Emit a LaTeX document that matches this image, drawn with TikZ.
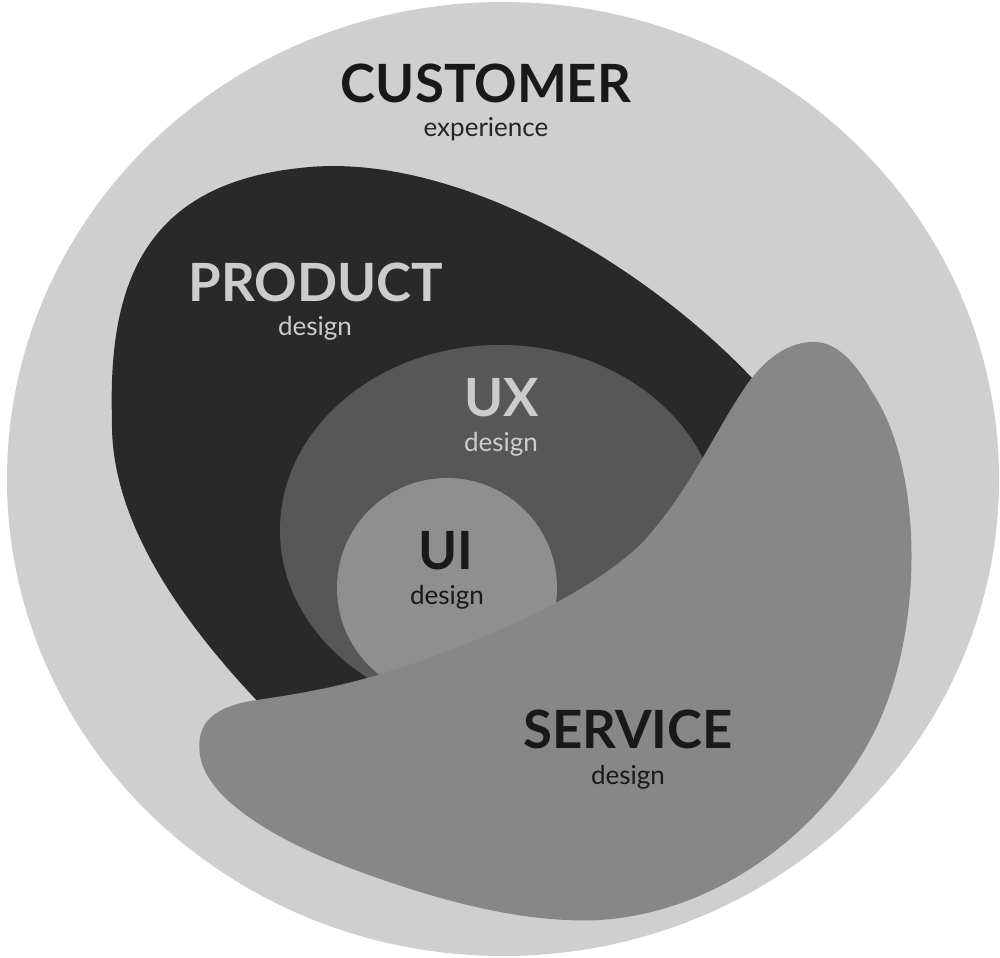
\documentclass[tikz,border=0pt]{standalone}
\usepackage{fontspec}
\setmainfont{Lato}

\definecolor{custgray}{gray}{0.81}
\definecolor{prodgray}{gray}{0.16}
\definecolor{uxgray}{gray}{0.34}
\definecolor{uigray}{gray}{0.56}
\definecolor{servgray}{gray}{0.53}
\definecolor{lighttext}{gray}{0.80}

\begin{document}
\begin{tikzpicture}[x=0.01cm,y=-0.01cm,
        title/.style={font=\bfseries\fontsize{15}{17}\selectfont, inner sep=0pt, anchor=base},
        sub/.style={font=\fontsize{7.4}{9}\selectfont, inner sep=0pt, anchor=base}]
    \useasboundingbox (0,0) rectangle (1000,958);

    % customer experience
    \fill[custgray] (503,479) ellipse [x radius=496, y radius=477];

    % product design (lower right part lies under the service shape)
    \fill[prodgray] (262,706)
        .. controls (180,620) and (110,520) .. (112,420)
        .. controls (108,290) and (140,185) .. (300,168)
        .. controls (450,150) and (640,260) .. (752,378)
        .. controls (800,430) and (780,520) .. (650,620)
        -- (300,730) -- cycle;

    % ux and ui design
    \fill[uxgray] (500,530) ellipse [x radius=220, y radius=185];
    \fill[uigray] (447,588) circle [radius=110];

    % service design
    \fill[servgray] (257,700)
        .. controls (215,706) and (195,722) .. (200,755)
        .. controls (206,800) and (280,842) .. (350,868)
        .. controls (430,898) and (520,924) .. (600,920)
        .. controls (720,912) and (822,830) .. (870,740)
        .. controls (925,640) and (925,470) .. (872,392)
        .. controls (852,356) and (832,340) .. (810,342)
        .. controls (785,344) and (765,360) .. (748,383)
        .. controls (715,430) and (690,492) .. (640,545)
        .. controls (590,592) and (500,635) .. (400,668)
        .. controls (340,688) and (290,695) .. cycle;

    % labels
    \node[title, text=black!90] (cust) at (486,103) {CUSTOMER};
    \node[sub, text=black!85] (custsub) at (486,137) {experience};
    \node[title, text=lighttext] (prod) at (316,302) {PRODUCT};
    \node[sub, text=lighttext] (prodsub) at (315,336) {design};
    \node[title, text=lighttext] (ux) at (502,417) {UX};
    \node[sub, text=lighttext] (uxsub) at (501,452) {design};
    \node[title, text=black!90] (ui) at (446,570) {UI};
    \node[sub, text=black!90] (uisub) at (447,604) {design};
    \node[title, text=black!90] (serv) at (628,748) {SERVICE};
    \node[sub, text=black!90] (servsub) at (628,784) {design};
\end{tikzpicture}
\end{document}
